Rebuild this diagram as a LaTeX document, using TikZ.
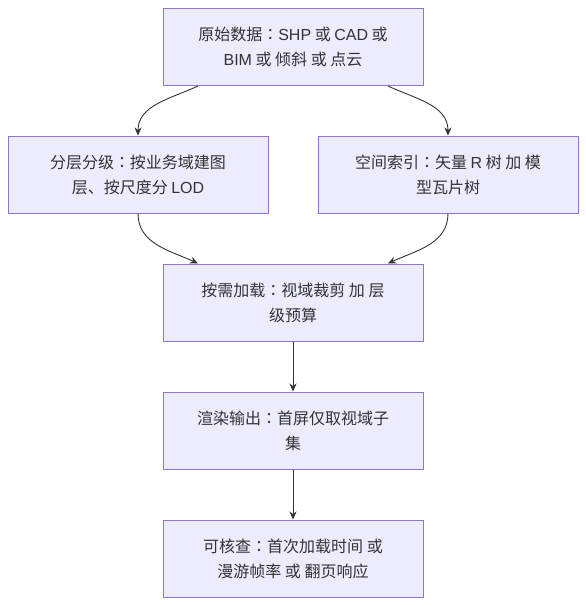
\documentclass[tikz,border=0pt]{standalone}
\usepackage{fontspec}
\setmainfont{Noto Sans CJK SC}
\newfontfamily\tcfont{Noto Sans CJK TC}
\newfontfamily\latfont{Liberation Sans}
\newcommand{\cln}{{\tcfont ：}}
\newcommand{\lat}[1]{{\latfont #1}}
\usetikzlibrary{arrows.meta}
\definecolor{boxfill}{HTML}{ECECFF}
\definecolor{boxdraw}{HTML}{9370DB}
\definecolor{ink}{HTML}{333333}
\tikzset{
  flowbox/.style={draw=boxdraw, fill=boxfill, line width=1pt, minimum width=260pt, minimum height=77pt,
    align=center, text=ink, font=\fontsize{16}{25}\selectfont, inner sep=0pt},
  link/.style={draw=ink, line width=0.9pt, -{Stealth[length=8pt,width=7pt]}}
}
\begin{document}
\begin{tikzpicture}[x=1pt,y=1pt]
\useasboundingbox (0,0) rectangle (586,-606);
\node[flowbox] (raw) at (293,-47) {原始数据\cln\lat{SHP} 或 \lat{CAD} 或\\\lat{BIM} 或 倾斜 或 点云};
\node[flowbox] (layer) at (138,-174.5) {分层分级\cln 按业务域建图\\层、按尺度分 \lat{LOD}};
\node[flowbox] (index) at (448,-174.5) {空间索引\cln 矢量 \lat{R} 树 加 模\\型瓦片树};
\node[flowbox] (load) at (293,-302.5) {按需加载\cln 视域裁剪 加 层\\级预算};
\node[flowbox] (render) at (293,-430.5) {渲染输出\cln 首屏仅取视域子\\集};
\node[flowbox] (check) at (293,-558.5) {可核查\cln 首次加载时间 或\\漫游帧率 或 翻页响应};
\draw[link] ([xshift=-95pt]raw.south) to[out=205,in=90] (layer.north);
\draw[link] ([xshift=95pt]raw.south) to[out=-25,in=90] (index.north);
\draw[link] (layer.south) to[out=-90,in=155] ([xshift=-95pt]load.north);
\draw[link] (index.south) to[out=-90,in=25] ([xshift=95pt]load.north);
\draw[link] (load) -- (render);
\draw[link] (render) -- (check);
\end{tikzpicture}
\end{document}
